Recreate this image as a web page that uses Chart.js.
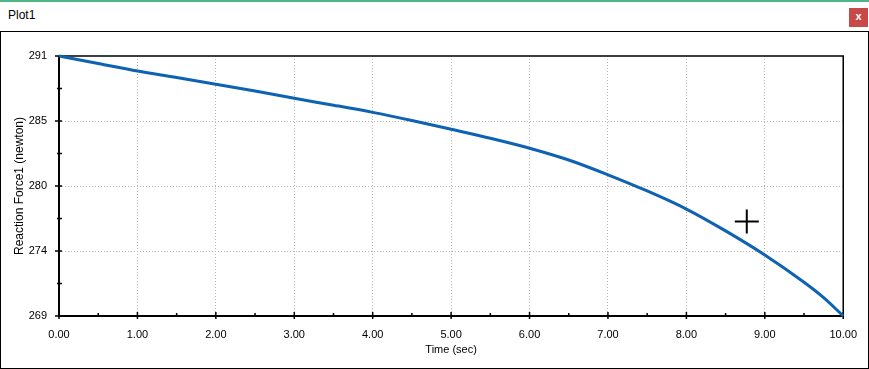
<!DOCTYPE html>
<html>
<head>
<meta charset="utf-8">
<script src="https://cdn.jsdelivr.net/npm/chart.js@4/dist/chart.umd.min.js"></script>
<style>
  html, body { margin:0; padding:0; background:#fff; }
  body { width:869px; height:369px; position:relative; overflow:hidden; font-family:"Liberation Sans", Arial, sans-serif; }
  #topline { position:absolute; left:0; top:0; width:869px; height:2px; background:#4cb784; }
  #title { position:absolute; left:8px; top:8px; font-size:12px; color:#000; }
  #close { position:absolute; left:849px; top:8px; width:19px; height:19px; background:#c94848; color:#fff; font-size:11px; font-weight:bold; text-align:center; line-height:17px; }
  #frame { position:absolute; left:0px; top:31px; width:867px; height:336px; border:1px solid #000; }
  #wrap { position:absolute; left:0; top:0; width:869px; height:369px; }
</style>
</head>
<body>
<div id="topline"></div>
<div id="title">Plot1</div>
<div id="close">x</div>
<div id="frame"></div>
<div id="wrap"><canvas id="c" width="869" height="369"></canvas></div>
<script>
// ---- data ----
const timeSec = [0, 0.5, 1, 1.5, 2, 2.5, 3, 3.5, 4, 4.5, 5, 5.5, 6, 6.5, 7, 7.5, 8, 8.5, 9, 9.5, 9.75, 10];
const reactionForce = [291.0, 290.37, 289.73, 289.18, 288.61, 288.04, 287.42, 286.84, 286.23, 285.54, 284.80, 284.04, 283.20, 282.20, 280.95, 279.58, 278.05, 276.20, 274.16, 271.85, 270.55, 269.0];
const cursorTime = [8.77];
const cursorForce = [277.0];
const xTickValues = [0, 1, 2, 3, 4, 5, 6, 7, 8, 9, 10];
const yTickValues = [269, 274.5, 280, 285.5, 291];
const yTickLabels = ['269', '274', '280', '285', '291'];
const xTitle = 'Time (sec)';
const yTitle = 'Reaction Force1 (newton)';

const FONT = "'Liberation Sans', Arial, sans-serif";

const framePlugin = {
  id: 'framePlugin',
  beforeDatasetsDraw(chart) {
    const ctx = chart.ctx;
    const a = chart.chartArea;
    const xs = chart.scales.x, ys = chart.scales.y;
    ctx.save();
    ctx.strokeStyle = '#000';
    ctx.lineWidth = 1.5;
    ctx.beginPath();
    ctx.moveTo(a.left, a.top); ctx.lineTo(a.right, a.top); ctx.lineTo(a.right, a.bottom);
    ctx.stroke();
    ctx.lineWidth = 2;
    ctx.beginPath();
    ctx.moveTo(a.left, a.top); ctx.lineTo(a.left, a.bottom); ctx.lineTo(a.right, a.bottom);
    ctx.stroke();
    ctx.lineWidth = 1.5;
    ctx.beginPath();
    for (let i = 0; i < xTickValues.length; i++) {
      const px = xs.getPixelForValue(xTickValues[i]);
      ctx.moveTo(px, a.bottom - 4); ctx.lineTo(px, a.bottom + 3);
      if (i < xTickValues.length - 1) {
        const mx = xs.getPixelForValue((xTickValues[i] + xTickValues[i + 1]) / 2);
        ctx.moveTo(mx, a.bottom - 3); ctx.lineTo(mx, a.bottom + 1);
      }
    }
    for (let i = 0; i < yTickValues.length; i++) {
      const py = ys.getPixelForValue(yTickValues[i]);
      ctx.moveTo(a.left - 4, py); ctx.lineTo(a.left + 3, py);
      if (i < yTickValues.length - 1) {
        const my = ys.getPixelForValue((yTickValues[i] + yTickValues[i + 1]) / 2);
        ctx.moveTo(a.left - 2, my); ctx.lineTo(a.left + 3, my);
      }
    }
    ctx.stroke();
    ctx.restore();
  }
};

new Chart(document.getElementById('c'), {
  type: 'scatter',
  data: {
    datasets: [
      {
        data: timeSec.map((t, i) => ({ x: t, y: reactionForce[i] })),
        showLine: true,
        borderColor: '#0d62b3',
        backgroundColor: '#0d62b3',
        borderWidth: 3,
        pointRadius: 0,
        cubicInterpolationMode: 'monotone',
        clip: false
      },
      {
        data: cursorTime.map((t, i) => ({ x: t, y: cursorForce[i] })),
        showLine: false,
        pointStyle: 'cross',
        pointRadius: 12,
        borderColor: '#000',
        borderWidth: 2,
        backgroundColor: '#000'
      }
    ]
  },
  options: {
    responsive: false,
    animation: false,
    events: [],
    layout: { padding: { top: 56, right: 24, bottom: 0, left: 0 } },
    plugins: { legend: { display: false }, tooltip: { enabled: false } },
    scales: {
      x: {
        type: 'linear', min: 0, max: 10,
        afterBuildTicks: (s) => { s.ticks = xTickValues.map(v => ({ value: v })); },
        afterFit: (s) => { s.height = 53; },
        ticks: {
          callback: (v) => Number(v).toFixed(2),
          font: { family: FONT, size: 11 }, color: '#000', padding: 12, maxRotation: 0, autoSkip: false
        },
        grid: {
          drawTicks: false, color: (c) => (c.tick && (c.tick.value === 0 || c.tick.value === 10)) ? 'rgba(0,0,0,0)' : '#b4b4b4',
          lineWidth: 1
        },
        border: { display: false, dash: [1, 2] },
        title: { display: true, text: xTitle, font: { family: FONT, size: 11 }, color: '#000', padding: { top: 0, bottom: 12 } }
      },
      y: {
        type: 'linear', min: 269, max: 291,
        afterBuildTicks: (s) => { s.ticks = yTickValues.map(v => ({ value: v })); },
        afterFit: (s) => { s.width = 59; },
        ticks: {
          callback: (v) => yTickLabels[yTickValues.indexOf(v)],
          font: { family: FONT, size: 11 }, color: '#000', padding: 12, autoSkip: false
        },
        grid: {
          drawTicks: false, color: (c) => (c.tick && (c.tick.value === 269 || c.tick.value === 291)) ? 'rgba(0,0,0,0)' : '#b4b4b4',
          lineWidth: 1
        },
        border: { display: false, dash: [1, 2] },
        title: { display: true, text: yTitle, font: { family: FONT, size: 12 }, color: '#000', padding: { top: 12, bottom: 0 } }
      }
    }
  },
  plugins: [framePlugin]
});
</script>
</body>
</html>
